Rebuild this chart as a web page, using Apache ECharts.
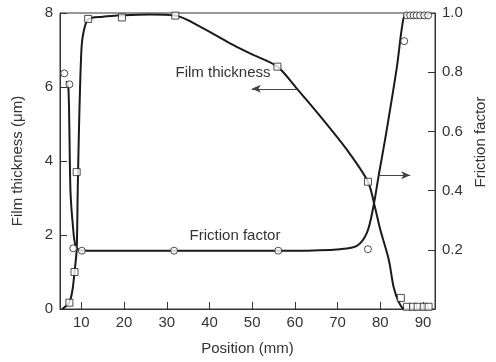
<!DOCTYPE html>
<html>
<head>
<meta charset="utf-8">
<script src="https://cdn.jsdelivr.net/npm/echarts@6/dist/echarts.min.js"></script>
<style>
html, body { margin: 0; padding: 0; background: #fff; }
#chart { width: 496px; height: 362px; }
</style>
</head>
<body>
<div id="chart"></div>
<script>
// x tick labels
var xTicks = [10, 20, 30, 40, 50, 60, 70, 80, 90];

// film thickness (um) - measured points (squares)
var filmMarkX = [7.2, 8.4, 8.9, 11.6, 19.5, 32, 55.9, 77.1, 84.8, 86.25, 87.65, 88.75, 90.15, 91.3];
var filmMarkY = [0.17, 1.0, 3.7, 7.84, 7.88, 7.93, 6.55, 3.44, 0.3, 0.06, 0.06, 0.06, 0.06, 0.06];

// film thickness - fitted curve
var filmCurveX = [5.5, 6.2, 7.2, 7.9, 8.4, 8.9, 9.15, 9.45, 9.9, 10.3, 11.6, 15, 20, 26, 32, 38, 44.8, 50, 55.9, 60.5, 66, 72.2, 77.1, 78.8, 80, 82, 83.1, 84.2, 85.6, 88, 91.5];
var filmCurveY = [0, 0.06, 0.18, 0.5, 1.0, 1.6, 3.2, 4.9, 6.7, 7.35, 7.83, 7.9, 7.94, 7.96, 7.93, 7.62, 7.18, 6.88, 6.55, 5.95, 5.2, 4.3, 3.44, 2.72, 2.14, 1.32, 0.6, 0.22, 0, 0, 0];

// friction factor - measured points (circles)
var fricMarkX = [6.0, 7.2, 8.1, 10.1, 31.7, 56.1, 77.1, 85.6, 86.2, 87.0, 87.8, 88.5, 89.3, 90.3, 91.2];
var fricMarkY = [0.796, 0.759, 0.205, 0.197, 0.197, 0.197, 0.202, 0.905, 0.992, 0.992, 0.992, 0.992, 0.992, 0.992, 0.992];

// friction factor - fitted curve
var fricCurveX = [6.5, 6.95, 7.18, 7.45, 7.97, 8.7, 10.1, 20, 40, 60, 70.6, 74.5, 76.9, 78.4, 79.6, 81.2, 83.9, 85.1, 85.9, 88, 91.5];
var fricCurveY = [0.77, 0.75, 0.62, 0.40, 0.29, 0.21, 0.198, 0.197, 0.197, 0.197, 0.202, 0.213, 0.259, 0.348, 0.45, 0.58, 0.82, 0.955, 0.995, 0.995, 0.995];

function pairs(xs, ys) {
  return xs.map(function (x, i) { return [x, ys[i]]; });
}

var font = '"Liberation Sans", Arial, sans-serif';
var ink = '#333';

var dom = document.getElementById('chart');
var myChart = echarts.init(dom, null, { renderer: 'canvas' });

var option = {
  animation: false,
  textStyle: { fontFamily: font },
  grid: {
    left: 60, right: 61, top: 13, bottom: 53,
    show: true, borderColor: ink, borderWidth: 1,
    backgroundColor: 'transparent'
  },
  xAxis: {
    type: 'value',
    min: 5, max: 92.8,
    name: 'Position (mm)',
    nameLocation: 'middle',
    nameGap: 32,
    nameTextStyle: { color: ink, fontSize: 15, fontFamily: font },
    axisLine: { lineStyle: { color: ink, width: 1 } },
    axisTick: { inside: true, length: 7, customValues: xTicks, lineStyle: { color: ink } },
    axisLabel: { customValues: xTicks, color: ink, fontSize: 15, margin: 6, fontFamily: font },
    splitLine: { show: false }
  },
  yAxis: [
    {
      type: 'value',
      min: 0, max: 8, interval: 2,
      name: 'Film thickness (μm)',
      nameLocation: 'middle',
      nameGap: 35,
      nameTextStyle: { color: ink, fontSize: 15, fontFamily: font },
      axisLine: { show: true, lineStyle: { color: ink, width: 1 } },
      axisTick: { show: true, inside: true, length: 7, lineStyle: { color: ink } },
      axisLabel: { color: ink, fontSize: 15, margin: 7, fontFamily: font },
      splitLine: { show: false }
    },
    {
      type: 'value',
      position: 'right',
      min: 0, max: 1, interval: 0.2,
      axisLine: { show: true, lineStyle: { color: ink, width: 1 } },
      axisTick: { show: true, inside: true, length: 7, lineStyle: { color: ink } },
      axisLabel: {
        color: ink, fontSize: 15, margin: 7, fontFamily: font,
        showMinLabel: false,
        formatter: function (v) { return v.toFixed(1); }
      },
      splitLine: { show: false }
    }
  ],
  graphic: [
    {
      type: 'text', x: 223, y: 73, silent: true,
      style: { text: 'Film thickness', fill: ink, font: '15px ' + font, align: 'center', verticalAlign: 'middle' }
    },
    {
      type: 'text', x: 235, y: 236, silent: true,
      style: { text: 'Friction factor', fill: ink, font: '15px ' + font, align: 'center', verticalAlign: 'middle' }
    },
    {
      // right axis title
      type: 'text', x: 481, y: 142, rotation: Math.PI / 2, silent: true,
      style: { text: 'Friction factor', fill: ink, font: '15px ' + font, align: 'center', verticalAlign: 'middle' }
    }
  ],
  series: [
    {
      name: 'Film thickness',
      type: 'line',
      yAxisIndex: 0,
      data: pairs(filmCurveX, filmCurveY),
      smooth: 0.3,
      showSymbol: false,
      lineStyle: { color: '#1a1a1a', width: 2 },
      z: 2,
      markLine: {
        silent: true,
        symbol: ['none', 'arrow'],
        symbolSize: [6, 9],
        label: { show: false },
        lineStyle: { color: '#444', width: 1, type: 'solid' },
        data: [[{ coord: [60.5, 5.95] }, { coord: [49.9, 5.95] }]]
      }
    },
    {
      name: 'Friction factor',
      type: 'line',
      yAxisIndex: 1,
      data: pairs(fricCurveX, fricCurveY),
      smooth: 0.3,
      showSymbol: false,
      lineStyle: { color: '#1a1a1a', width: 2 },
      z: 2,
      markLine: {
        silent: true,
        symbol: ['none', 'arrow'],
        symbolSize: [6, 9],
        label: { show: false },
        lineStyle: { color: '#444', width: 1, type: 'solid' },
        data: [[{ coord: [79.6, 0.452] }, { coord: [87.0, 0.452] }]]
      }
    },
    {
      name: 'Film points',
      type: 'scatter',
      yAxisIndex: 0,
      data: pairs(filmMarkX, filmMarkY),
      symbol: 'rect',
      symbolSize: 7,
      itemStyle: { color: '#fff', borderColor: '#222', borderWidth: 1 },
      z: 3
    },
    {
      name: 'Friction points',
      type: 'scatter',
      yAxisIndex: 1,
      data: pairs(fricMarkX, fricMarkY),
      symbol: 'circle',
      symbolSize: 7,
      itemStyle: { color: '#fff', borderColor: '#222', borderWidth: 1 },
      z: 3
    }
  ]
};

myChart.setOption(option);
window.addEventListener('resize', myChart.resize);
</script>
</body>
</html>
